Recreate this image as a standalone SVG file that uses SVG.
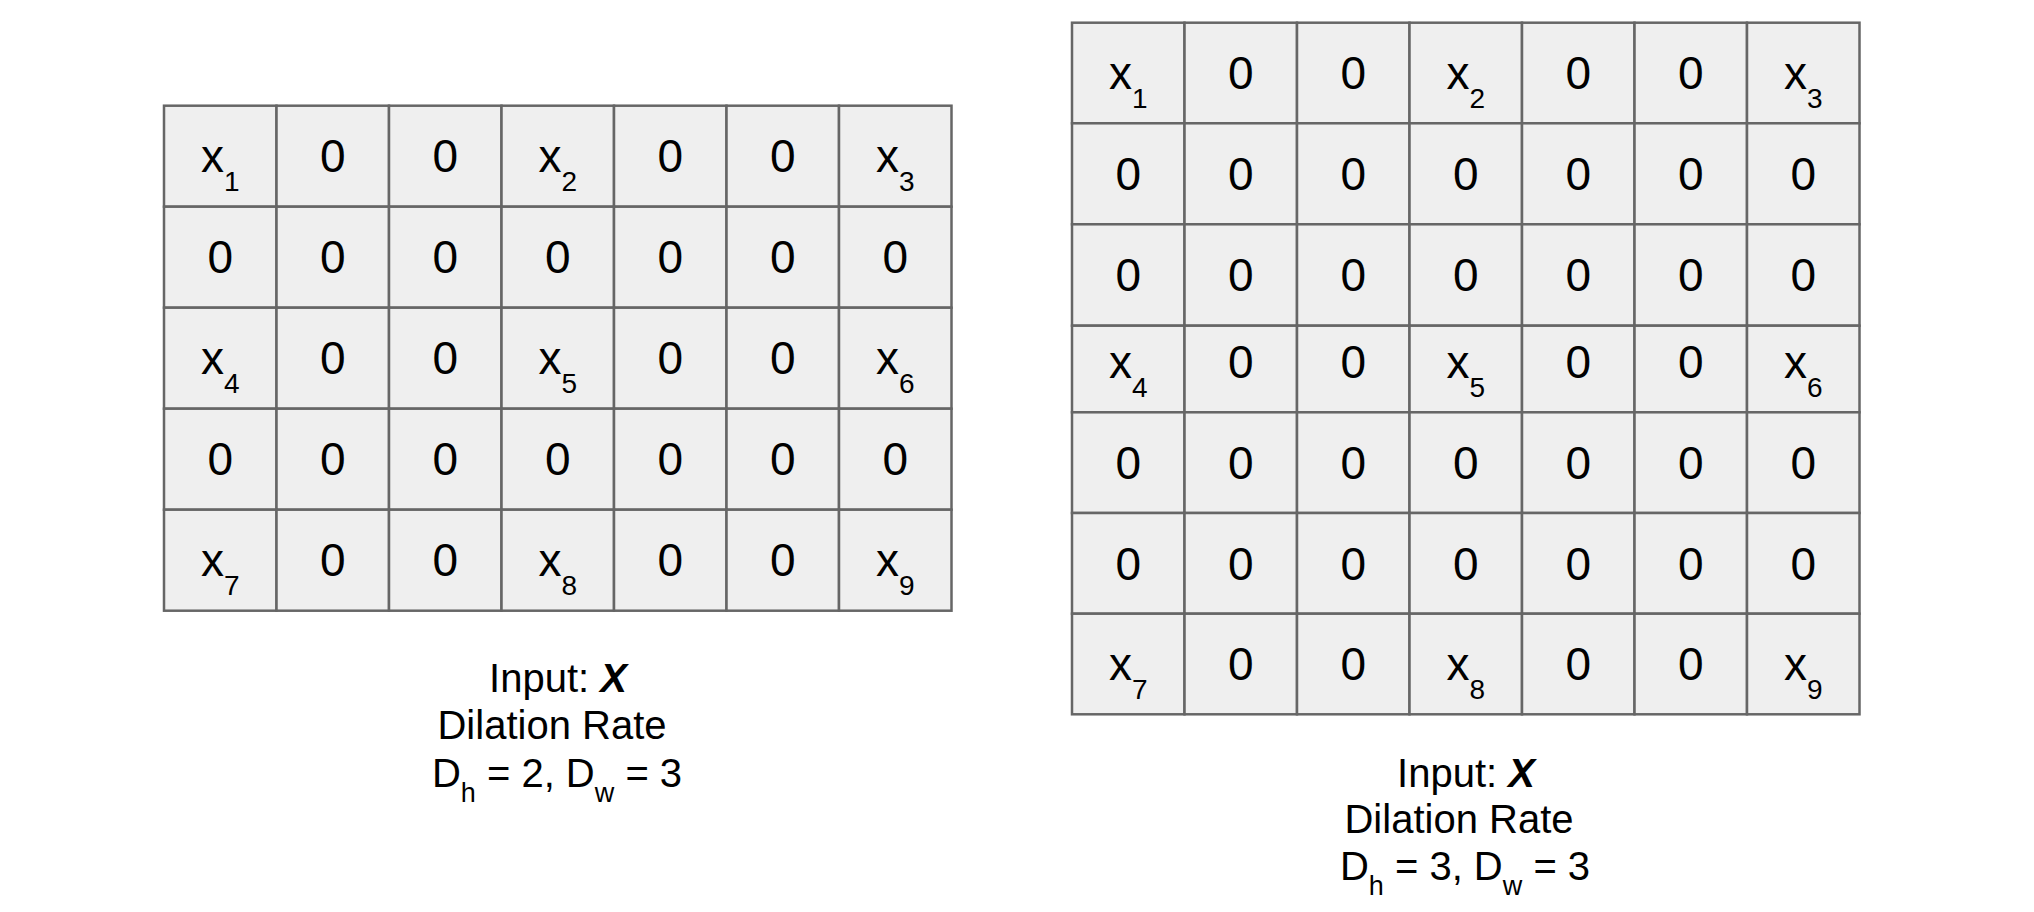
<svg xmlns="http://www.w3.org/2000/svg" width="2034" height="912" viewBox="0 0 2034 912">
<style>
.c{fill:#efefef;stroke:#666;stroke-width:2.5}
.t{font-family:"Liberation Sans",Arial,sans-serif;font-size:46px;fill:#000;text-anchor:middle}
.s{font-size:28px}
.cap{font-family:"Liberation Sans",Arial,sans-serif;font-size:40px;fill:#000;text-anchor:middle}
.cs{font-size:27px}
.bx{font-weight:bold;font-style:italic}
</style>
<rect width="2034" height="912" fill="#fff"/>
<g id="gridA">
<g id="a11"><rect class="c" x="164" y="105.7" width="112.5" height="101"/><text class="t" x="220.2" y="172.2">x<tspan class="s" dy="19">1</tspan></text></g>
<g id="a12"><rect class="c" x="276.5" y="105.7" width="112.5" height="101"/><text class="t" x="332.7" y="172.2">0</text></g>
<g id="a13"><rect class="c" x="389" y="105.7" width="112.5" height="101"/><text class="t" x="445.2" y="172.2">0</text></g>
<g id="a14"><rect class="c" x="501.5" y="105.7" width="112.5" height="101"/><text class="t" x="557.7" y="172.2">x<tspan class="s" dy="19">2</tspan></text></g>
<g id="a15"><rect class="c" x="614" y="105.7" width="112.5" height="101"/><text class="t" x="670.2" y="172.2">0</text></g>
<g id="a16"><rect class="c" x="726.5" y="105.7" width="112.5" height="101"/><text class="t" x="782.7" y="172.2">0</text></g>
<g id="a17"><rect class="c" x="839" y="105.7" width="112.5" height="101"/><text class="t" x="895.2" y="172.2">x<tspan class="s" dy="19">3</tspan></text></g>

<g id="a21"><rect class="c" x="164" y="206.7" width="112.5" height="101"/><text class="t" x="220.2" y="273.2">0</text></g>
<g id="a22"><rect class="c" x="276.5" y="206.7" width="112.5" height="101"/><text class="t" x="332.7" y="273.2">0</text></g>
<g id="a23"><rect class="c" x="389" y="206.7" width="112.5" height="101"/><text class="t" x="445.2" y="273.2">0</text></g>
<g id="a24"><rect class="c" x="501.5" y="206.7" width="112.5" height="101"/><text class="t" x="557.7" y="273.2">0</text></g>
<g id="a25"><rect class="c" x="614" y="206.7" width="112.5" height="101"/><text class="t" x="670.2" y="273.2">0</text></g>
<g id="a26"><rect class="c" x="726.5" y="206.7" width="112.5" height="101"/><text class="t" x="782.7" y="273.2">0</text></g>
<g id="a27"><rect class="c" x="839" y="206.7" width="112.5" height="101"/><text class="t" x="895.2" y="273.2">0</text></g>

<g id="a31"><rect class="c" x="164" y="307.7" width="112.5" height="101"/><text class="t" x="220.2" y="374.2">x<tspan class="s" dy="19">4</tspan></text></g>
<g id="a32"><rect class="c" x="276.5" y="307.7" width="112.5" height="101"/><text class="t" x="332.7" y="374.2">0</text></g>
<g id="a33"><rect class="c" x="389" y="307.7" width="112.5" height="101"/><text class="t" x="445.2" y="374.2">0</text></g>
<g id="a34"><rect class="c" x="501.5" y="307.7" width="112.5" height="101"/><text class="t" x="557.7" y="374.2">x<tspan class="s" dy="19">5</tspan></text></g>
<g id="a35"><rect class="c" x="614" y="307.7" width="112.5" height="101"/><text class="t" x="670.2" y="374.2">0</text></g>
<g id="a36"><rect class="c" x="726.5" y="307.7" width="112.5" height="101"/><text class="t" x="782.7" y="374.2">0</text></g>
<g id="a37"><rect class="c" x="839" y="307.7" width="112.5" height="101"/><text class="t" x="895.2" y="374.2">x<tspan class="s" dy="19">6</tspan></text></g>

<g id="a41"><rect class="c" x="164" y="408.7" width="112.5" height="101"/><text class="t" x="220.2" y="475.2">0</text></g>
<g id="a42"><rect class="c" x="276.5" y="408.7" width="112.5" height="101"/><text class="t" x="332.7" y="475.2">0</text></g>
<g id="a43"><rect class="c" x="389" y="408.7" width="112.5" height="101"/><text class="t" x="445.2" y="475.2">0</text></g>
<g id="a44"><rect class="c" x="501.5" y="408.7" width="112.5" height="101"/><text class="t" x="557.7" y="475.2">0</text></g>
<g id="a45"><rect class="c" x="614" y="408.7" width="112.5" height="101"/><text class="t" x="670.2" y="475.2">0</text></g>
<g id="a46"><rect class="c" x="726.5" y="408.7" width="112.5" height="101"/><text class="t" x="782.7" y="475.2">0</text></g>
<g id="a47"><rect class="c" x="839" y="408.7" width="112.5" height="101"/><text class="t" x="895.2" y="475.2">0</text></g>

<g id="a51"><rect class="c" x="164" y="509.7" width="112.5" height="101"/><text class="t" x="220.2" y="576.2">x<tspan class="s" dy="19">7</tspan></text></g>
<g id="a52"><rect class="c" x="276.5" y="509.7" width="112.5" height="101"/><text class="t" x="332.7" y="576.2">0</text></g>
<g id="a53"><rect class="c" x="389" y="509.7" width="112.5" height="101"/><text class="t" x="445.2" y="576.2">0</text></g>
<g id="a54"><rect class="c" x="501.5" y="509.7" width="112.5" height="101"/><text class="t" x="557.7" y="576.2">x<tspan class="s" dy="19">8</tspan></text></g>
<g id="a55"><rect class="c" x="614" y="509.7" width="112.5" height="101"/><text class="t" x="670.2" y="576.2">0</text></g>
<g id="a56"><rect class="c" x="726.5" y="509.7" width="112.5" height="101"/><text class="t" x="782.7" y="576.2">0</text></g>
<g id="a57"><rect class="c" x="839" y="509.7" width="112.5" height="101"/><text class="t" x="895.2" y="576.2">x<tspan class="s" dy="19">9</tspan></text></g>
</g>
<g id="captionA">
<text class="cap" x="558" y="692">Input: <tspan class="bx">X</tspan></text>
<text class="cap" x="552" y="739">Dilation Rate</text>
<text class="cap" x="557" y="787">D<tspan class="cs" dy="15">h</tspan><tspan dy="-15"> = 2, D</tspan><tspan class="cs" dy="15">w</tspan><tspan dy="-15"> = 3</tspan></text>
</g>

<g id="gridB">
<g id="b11"><rect class="c" x="1072" y="22.7" width="112.5" height="100.6"/><text class="t" x="1128.2" y="89">x<tspan class="s" dy="19">1</tspan></text></g>
<g id="b12"><rect class="c" x="1184.5" y="22.7" width="112.5" height="100.6"/><text class="t" x="1240.7" y="89">0</text></g>
<g id="b13"><rect class="c" x="1297" y="22.7" width="112.5" height="100.6"/><text class="t" x="1353.2" y="89">0</text></g>
<g id="b14"><rect class="c" x="1409.5" y="22.7" width="112.5" height="100.6"/><text class="t" x="1465.7" y="89">x<tspan class="s" dy="19">2</tspan></text></g>
<g id="b15"><rect class="c" x="1522" y="22.7" width="112.5" height="100.6"/><text class="t" x="1578.2" y="89">0</text></g>
<g id="b16"><rect class="c" x="1634.5" y="22.7" width="112.5" height="100.6"/><text class="t" x="1690.7" y="89">0</text></g>
<g id="b17"><rect class="c" x="1747" y="22.7" width="112.5" height="100.6"/><text class="t" x="1803.2" y="89">x<tspan class="s" dy="19">3</tspan></text></g>

<g id="b21"><rect class="c" x="1072" y="123.3" width="112.5" height="101"/><text class="t" x="1128.2" y="190">0</text></g>
<g id="b22"><rect class="c" x="1184.5" y="123.3" width="112.5" height="101"/><text class="t" x="1240.7" y="190">0</text></g>
<g id="b23"><rect class="c" x="1297" y="123.3" width="112.5" height="101"/><text class="t" x="1353.2" y="190">0</text></g>
<g id="b24"><rect class="c" x="1409.5" y="123.3" width="112.5" height="101"/><text class="t" x="1465.7" y="190">0</text></g>
<g id="b25"><rect class="c" x="1522" y="123.3" width="112.5" height="101"/><text class="t" x="1578.2" y="190">0</text></g>
<g id="b26"><rect class="c" x="1634.5" y="123.3" width="112.5" height="101"/><text class="t" x="1690.7" y="190">0</text></g>
<g id="b27"><rect class="c" x="1747" y="123.3" width="112.5" height="101"/><text class="t" x="1803.2" y="190">0</text></g>

<g id="b31"><rect class="c" x="1072" y="224.3" width="112.5" height="101.4"/><text class="t" x="1128.2" y="291">0</text></g>
<g id="b32"><rect class="c" x="1184.5" y="224.3" width="112.5" height="101.4"/><text class="t" x="1240.7" y="291">0</text></g>
<g id="b33"><rect class="c" x="1297" y="224.3" width="112.5" height="101.4"/><text class="t" x="1353.2" y="291">0</text></g>
<g id="b34"><rect class="c" x="1409.5" y="224.3" width="112.5" height="101.4"/><text class="t" x="1465.7" y="291">0</text></g>
<g id="b35"><rect class="c" x="1522" y="224.3" width="112.5" height="101.4"/><text class="t" x="1578.2" y="291">0</text></g>
<g id="b36"><rect class="c" x="1634.5" y="224.3" width="112.5" height="101.4"/><text class="t" x="1690.7" y="291">0</text></g>
<g id="b37"><rect class="c" x="1747" y="224.3" width="112.5" height="101.4"/><text class="t" x="1803.2" y="291">0</text></g>

<g id="b41"><rect class="c" x="1072" y="325.7" width="112.5" height="86.6"/><text class="t" x="1128.2" y="378">x<tspan class="s" dy="19">4</tspan></text></g>
<g id="b42"><rect class="c" x="1184.5" y="325.7" width="112.5" height="86.6"/><text class="t" x="1240.7" y="378">0</text></g>
<g id="b43"><rect class="c" x="1297" y="325.7" width="112.5" height="86.6"/><text class="t" x="1353.2" y="378">0</text></g>
<g id="b44"><rect class="c" x="1409.5" y="325.7" width="112.5" height="86.6"/><text class="t" x="1465.7" y="378">x<tspan class="s" dy="19">5</tspan></text></g>
<g id="b45"><rect class="c" x="1522" y="325.7" width="112.5" height="86.6"/><text class="t" x="1578.2" y="378">0</text></g>
<g id="b46"><rect class="c" x="1634.5" y="325.7" width="112.5" height="86.6"/><text class="t" x="1690.7" y="378">0</text></g>
<g id="b47"><rect class="c" x="1747" y="325.7" width="112.5" height="86.6"/><text class="t" x="1803.2" y="378">x<tspan class="s" dy="19">6</tspan></text></g>

<g id="b51"><rect class="c" x="1072" y="412.3" width="112.5" height="100.7"/><text class="t" x="1128.2" y="479">0</text></g>
<g id="b52"><rect class="c" x="1184.5" y="412.3" width="112.5" height="100.7"/><text class="t" x="1240.7" y="479">0</text></g>
<g id="b53"><rect class="c" x="1297" y="412.3" width="112.5" height="100.7"/><text class="t" x="1353.2" y="479">0</text></g>
<g id="b54"><rect class="c" x="1409.5" y="412.3" width="112.5" height="100.7"/><text class="t" x="1465.7" y="479">0</text></g>
<g id="b55"><rect class="c" x="1522" y="412.3" width="112.5" height="100.7"/><text class="t" x="1578.2" y="479">0</text></g>
<g id="b56"><rect class="c" x="1634.5" y="412.3" width="112.5" height="100.7"/><text class="t" x="1690.7" y="479">0</text></g>
<g id="b57"><rect class="c" x="1747" y="412.3" width="112.5" height="100.7"/><text class="t" x="1803.2" y="479">0</text></g>

<g id="b61"><rect class="c" x="1072" y="513" width="112.5" height="100.7"/><text class="t" x="1128.2" y="580">0</text></g>
<g id="b62"><rect class="c" x="1184.5" y="513" width="112.5" height="100.7"/><text class="t" x="1240.7" y="580">0</text></g>
<g id="b63"><rect class="c" x="1297" y="513" width="112.5" height="100.7"/><text class="t" x="1353.2" y="580">0</text></g>
<g id="b64"><rect class="c" x="1409.5" y="513" width="112.5" height="100.7"/><text class="t" x="1465.7" y="580">0</text></g>
<g id="b65"><rect class="c" x="1522" y="513" width="112.5" height="100.7"/><text class="t" x="1578.2" y="580">0</text></g>
<g id="b66"><rect class="c" x="1634.5" y="513" width="112.5" height="100.7"/><text class="t" x="1690.7" y="580">0</text></g>
<g id="b67"><rect class="c" x="1747" y="513" width="112.5" height="100.7"/><text class="t" x="1803.2" y="580">0</text></g>

<g id="b71"><rect class="c" x="1072" y="613.7" width="112.5" height="100.6"/><text class="t" x="1128.2" y="680">x<tspan class="s" dy="19">7</tspan></text></g>
<g id="b72"><rect class="c" x="1184.5" y="613.7" width="112.5" height="100.6"/><text class="t" x="1240.7" y="680">0</text></g>
<g id="b73"><rect class="c" x="1297" y="613.7" width="112.5" height="100.6"/><text class="t" x="1353.2" y="680">0</text></g>
<g id="b74"><rect class="c" x="1409.5" y="613.7" width="112.5" height="100.6"/><text class="t" x="1465.7" y="680">x<tspan class="s" dy="19">8</tspan></text></g>
<g id="b75"><rect class="c" x="1522" y="613.7" width="112.5" height="100.6"/><text class="t" x="1578.2" y="680">0</text></g>
<g id="b76"><rect class="c" x="1634.5" y="613.7" width="112.5" height="100.6"/><text class="t" x="1690.7" y="680">0</text></g>
<g id="b77"><rect class="c" x="1747" y="613.7" width="112.5" height="100.6"/><text class="t" x="1803.2" y="680">x<tspan class="s" dy="19">9</tspan></text></g>
</g>
<g id="captionB">
<text class="cap" x="1466" y="787">Input: <tspan class="bx">X</tspan></text>
<text class="cap" x="1459" y="833">Dilation Rate</text>
<text class="cap" x="1465" y="880">D<tspan class="cs" dy="15">h</tspan><tspan dy="-15"> = 3, D</tspan><tspan class="cs" dy="15">w</tspan><tspan dy="-15"> = 3</tspan></text>
</g>
<g id="connectors"/>
</svg>
